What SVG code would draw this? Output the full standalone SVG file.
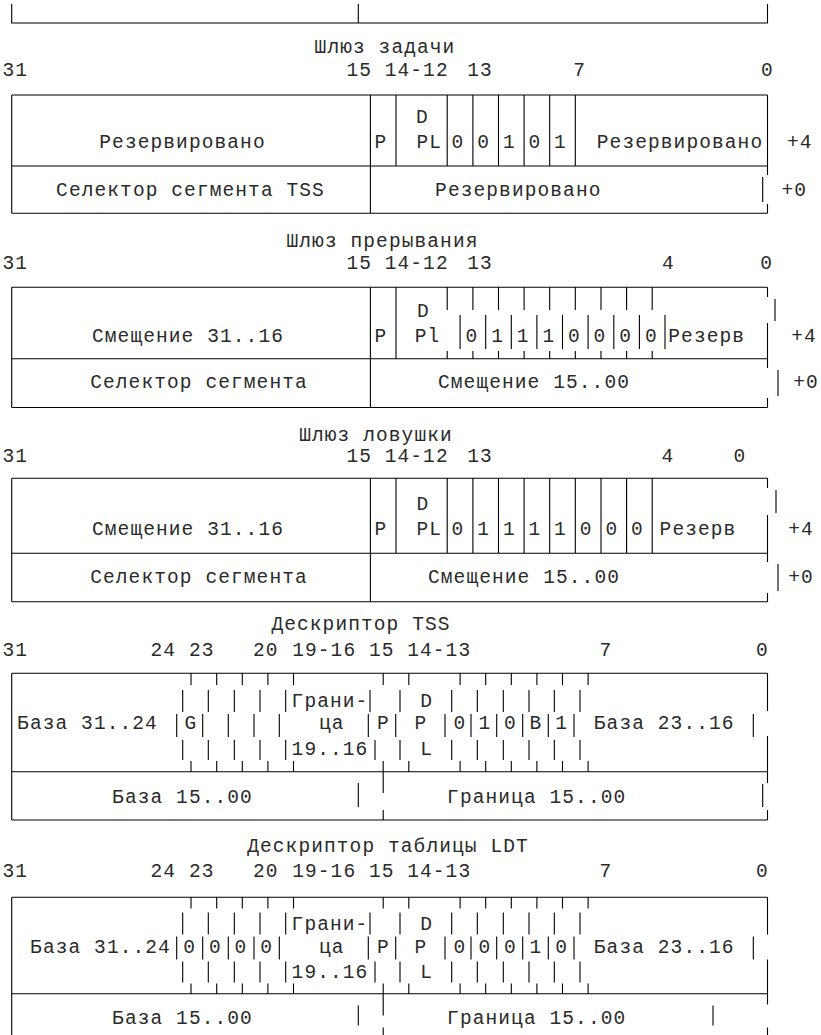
<svg xmlns="http://www.w3.org/2000/svg" width="821" height="1035" viewBox="0 0 821 1035">
<style>
.t{font-family:"Liberation Mono","DejaVu Sans Mono",monospace;font-size:19.5px;letter-spacing:1.1px;fill:#2a2a2a;text-anchor:middle}
.ln{stroke:#000;stroke-width:1.1;fill:none}
</style>
<rect width="821" height="1035" fill="#fff"/>
<g id="prev-tail">
<path class="ln" d="M11.7 4V23H767.5V4M358.3 4V23"/>
</g>
<g id="task-gate">
<text class="t" x="385" y="53.3">Шлюз задачи</text>
<text class="t" x="15.3" y="76">31</text><text class="t" x="359.2" y="76">15</text><text class="t" x="416.7" y="76">14-12</text><text class="t" x="480" y="76">13</text><text class="t" x="579.7" y="76">7</text><text class="t" x="767.5" y="76">0</text>
<path class="ln" d="M11.7 95H767.5M11.7 166H767.5M11.7 213.3H767.5M11.7 95V213.3M370.4 95V213.3M396 95V166M447.2 95V166M472.9 95V166M498.5 95V166M524.1 95V166M549.7 95V166M575.3 95V166M767.5 95V175M762.7 177V202M767.5 204V213.3"/>
<text class="t" x="422.5" y="123.3">D</text>
<text class="t" x="182.5" y="147.7">Резервировано</text>
<text class="t" x="381" y="147.7">P</text>
<text class="t" x="429.2" y="147.7">PL</text>
<text class="t" x="458" y="147.7">0</text><text class="t" x="483.7" y="147.7">0</text><text class="t" x="509.3" y="147.7">1</text><text class="t" x="534.9" y="147.7">0</text><text class="t" x="560.5" y="147.7">1</text>
<text class="t" x="680" y="147.7">Резервировано</text>
<text class="t" x="799.7" y="147.7">+4</text>
<text class="t" x="190.5" y="196">Селектор сегмента TSS</text>
<text class="t" x="518.3" y="196">Резервировано</text>
<text class="t" x="794.2" y="196">+0</text>
</g>
<g id="interrupt-gate">
<text class="t" x="382.5" y="246.5">Шлюз прерывания</text>
<text class="t" x="15.3" y="268.5">31</text><text class="t" x="359.2" y="268.5">15</text><text class="t" x="416.7" y="268.5">14-12</text><text class="t" x="480" y="268.5">13</text><text class="t" x="668.3" y="268.5">4</text><text class="t" x="766.7" y="268.5">0</text>
<path class="ln" d="M11.7 287.3H767.5M11.7 358.7H767.5M11.7 407.5H767.5M11.7 287.3V407.5M370.4 287.3V407.5M396 287.3V358.7
M447.2 287.3V310M472.9 287.3V310M498.5 287.3V310M524.1 287.3V310M549.7 287.3V310M575.3 287.3V310M601 287.3V310M626.6 287.3V310M652.2 287.3V310
M447.2 351V358.7M472.9 351V358.7M498.5 351V358.7M524.1 351V358.7M549.7 351V358.7M575.3 351V358.7M601 351V358.7M626.6 351V358.7M652.2 351V358.7
M460.1 315V349M485.7 315V349M511.3 315V349M536.9 315V349M562.5 315V349M588.1 315V349M613.8 315V349M639.4 315V349M665 315V349
M767.5 287.3V297M775 299V321M767.5 323V368M778 370V396M767.5 398V407.5"/>
<text class="t" x="423.3" y="316.7">D</text>
<text class="t" x="188" y="341.7">Смещение 31..16</text>
<text class="t" x="381" y="341.7">P</text>
<text class="t" x="427.5" y="341.7">Pl</text>
<text class="t" x="472" y="341.7">0</text><text class="t" x="497.6" y="341.7">1</text><text class="t" x="523.2" y="341.7">1</text><text class="t" x="548.8" y="341.7">1</text><text class="t" x="574.4" y="341.7">0</text><text class="t" x="600" y="341.7">0</text><text class="t" x="625.6" y="341.7">0</text><text class="t" x="651.3" y="341.7">0</text>
<text class="t" x="706.7" y="341.7">Резерв</text>
<text class="t" x="804" y="341.7">+4</text>
<text class="t" x="199" y="388.3">Селектор сегмента</text>
<text class="t" x="534" y="388.3">Смещение 15..00</text>
<text class="t" x="806" y="388.3">+0</text>
</g>
<g id="trap-gate">
<text class="t" x="376" y="441">Шлюз ловушки</text>
<text class="t" x="15.3" y="462">31</text><text class="t" x="359.2" y="462">15</text><text class="t" x="416.7" y="462">14-12</text><text class="t" x="480" y="462">13</text><text class="t" x="668" y="462">4</text><text class="t" x="740" y="462">0</text>
<path class="ln" d="M11.7 478.3H767.5M11.7 553.3H767.5M11.7 601.7H767.5M11.7 478.3V601.7M370.4 478.3V601.7M396 478.3V553.3
M447.2 478.3V553.3M472.9 478.3V553.3M498.5 478.3V553.3M524.1 478.3V553.3M549.7 478.3V553.3M575.3 478.3V553.3M601 478.3V553.3M626.6 478.3V553.3M652.2 478.3V553.3
M767.5 478.3V488M776 490V513M767.5 515V562M778 564V591M767.5 593V601.7"/>
<text class="t" x="423" y="510">D</text>
<text class="t" x="188" y="535">Смещение 31..16</text>
<text class="t" x="381" y="535">P</text>
<text class="t" x="429.2" y="535">PL</text>
<text class="t" x="458" y="535">0</text><text class="t" x="483.7" y="535">1</text><text class="t" x="509.3" y="535">1</text><text class="t" x="534.9" y="535">1</text><text class="t" x="560.5" y="535">1</text><text class="t" x="586.1" y="535">0</text><text class="t" x="611.8" y="535">0</text><text class="t" x="637.4" y="535">0</text>
<text class="t" x="698" y="535">Резерв</text>
<text class="t" x="801" y="535">+4</text>
<text class="t" x="199" y="583.3">Селектор сегмента</text>
<text class="t" x="524" y="583.3">Смещение 15..00</text>
<text class="t" x="801" y="583.3">+0</text>
</g>
<g id="tss-descriptor">
<text class="t" x="361" y="630">Дескриптор TSS</text>
<text class="t" x="15.3" y="656">31</text><text class="t" x="163.3" y="656">24</text><text class="t" x="201.7" y="656">23</text><text class="t" x="265.8" y="656">20</text><text class="t" x="324.2" y="656">19-16</text><text class="t" x="381.7" y="656">15</text><text class="t" x="439.2" y="656">14-13</text><text class="t" x="605.8" y="656">7</text><text class="t" x="762.5" y="656">0</text>
<path class="ln" d="M11.7 673.3H767.5M11.7 771.7H767.5M11.7 820H767.5M11.7 673.3V820
M191 673.3V685M216.7 673.3V685M242.3 673.3V685M267.9 673.3V685M293.5 673.3V685M383.2 673.3V685M408.8 673.3V685M460.1 673.3V685M485.7 673.3V685M511.3 673.3V685M536.9 673.3V685M562.5 673.3V685M588.1 673.3V685
M182.7 690V712M208.3 690V712M234.3 690V712M260 690V712M285.7 690V712M370 690V712M400 690V712M451.7 690V712M477.3 690V712M503.3 690V712M529 690V712M554.3 690V712M580 690V712
M176.7 714V737M202.7 714V737M228.3 714V737M254 714V737M279.3 714V737M368.3 714V737M395.7 714V737M445 714V737M471 714V737M496.7 714V737M522.7 714V737M548.3 714V737M574 714V737M753.3 714V737
M182.7 740V760M208.3 740V760M234.3 740V760M260 740V760M285.7 740V760M375 740V760M400 740V760M451.7 740V760M477.3 740V760M503.3 740V760M529 740V760M554.3 740V760M580 740V760
M191 761V771.7M216.7 761V771.7M242.3 761V771.7M267.9 761V771.7M293.5 761V771.7M383.2 761V793M408.8 761V771.7M460.1 761V771.7M485.7 761V771.7M511.3 761V771.7M536.9 761V771.7M562.5 761V771.7M588.1 761V771.7
M767.5 673.3V711M767.5 736V783M762.7 784V807M767.5 810V820M358.3 783V807M383.2 810V820"/>
<text class="t" x="330" y="706.7">Грани-</text>
<text class="t" x="426.7" y="706.7">D</text>
<text class="t" x="87.5" y="729.3">База 31..24</text>
<text class="t" x="190.8" y="729.3">G</text>
<text class="t" x="331.7" y="729.3">ца</text>
<text class="t" x="383.3" y="729.3">P</text>
<text class="t" x="420.8" y="729.3">P</text>
<text class="t" x="460" y="729.3">0</text><text class="t" x="485" y="729.3">1</text><text class="t" x="510.5" y="729.3">0</text><text class="t" x="535.8" y="729.3">B</text><text class="t" x="561.7" y="729.3">1</text>
<text class="t" x="664.2" y="729.3">База 23..16</text>
<text class="t" x="330" y="755">19..16</text>
<text class="t" x="426.7" y="755">L</text>
<text class="t" x="182.5" y="802.7">База 15..00</text>
<text class="t" x="536.7" y="802.7">Граница 15..00</text>
</g>
<g id="ldt-descriptor" transform="translate(0 5.5)">
<text class="t" x="388" y="846.7">Дескриптор таблицы LDT</text>
<text class="t" x="15.3" y="871.7">31</text><text class="t" x="163.3" y="871.7">24</text><text class="t" x="201.7" y="871.7">23</text><text class="t" x="265.8" y="871.7">20</text><text class="t" x="324.2" y="871.7">19-16</text><text class="t" x="381.7" y="871.7">15</text><text class="t" x="439.2" y="871.7">14-13</text><text class="t" x="605.8" y="871.7">7</text><text class="t" x="762.5" y="871.7">0</text>
<path class="ln" d="M11.7 891.7H767.5M11.7 988.3H767.5M11.7 891.7V1035
M191 891.7V903M216.7 891.7V903M242.3 891.7V903M267.9 891.7V903M293.5 891.7V903M383.2 891.7V903M408.8 891.7V903M460.1 891.7V903M485.7 891.7V903M511.3 891.7V903M536.9 891.7V903M562.5 891.7V903M588.1 891.7V903
M182.7 907V929M208.3 907V929M234.3 907V929M260 907V929M285.7 907V929M370 907V929M400 907V929M451.7 907V929M477.3 907V929M503.3 907V929M529 907V929M554.3 907V929M580 907V929
M176.7 931V954M202.7 931V954M228.3 931V954M254 931V954M279.3 931V954M368.3 931V954M395.7 931V954M445 931V954M471 931V954M496.7 931V954M522.7 931V954M548.3 931V954M574 931V954M753.3 931V954
M182.7 956V977M208.3 956V977M234.3 956V977M260 956V977M285.7 956V977M375 956V977M400 956V977M451.7 956V977M477.3 956V977M503.3 956V977M529 956V977M554.3 956V977M580 956V977
M191 978V988.3M216.7 978V988.3M242.3 978V988.3M267.9 978V988.3M293.5 978V988.3M383.2 978V1010M408.8 978V988.3M460.1 978V988.3M485.7 978V988.3M511.3 978V988.3M536.9 978V988.3M562.5 978V988.3M588.1 978V988.3
M767.5 891.7V929M767.5 954V999M767.5 1022V1035M358.3 1000V1020M713 1000V1020M383.2 1022V1035"/>
<text class="t" x="330" y="924">Грани-</text>
<text class="t" x="426.7" y="924">D</text>
<text class="t" x="100.5" y="947">База 31..24</text>
<text class="t" x="189.7" y="947">0</text><text class="t" x="215.3" y="947">0</text><text class="t" x="241" y="947">0</text><text class="t" x="266.6" y="947">0</text>
<text class="t" x="331.7" y="947">ца</text>
<text class="t" x="383.3" y="947">P</text>
<text class="t" x="420.8" y="947">P</text>
<text class="t" x="460" y="947">0</text><text class="t" x="485" y="947">0</text><text class="t" x="510.5" y="947">0</text><text class="t" x="535.8" y="947">1</text><text class="t" x="561.7" y="947">0</text>
<text class="t" x="664.2" y="947">База 23..16</text>
<text class="t" x="330" y="972">19..16</text>
<text class="t" x="426.7" y="972">L</text>
<text class="t" x="182.5" y="1018">База 15..00</text>
<text class="t" x="536.7" y="1018">Граница 15..00</text>
</g>
</svg>
